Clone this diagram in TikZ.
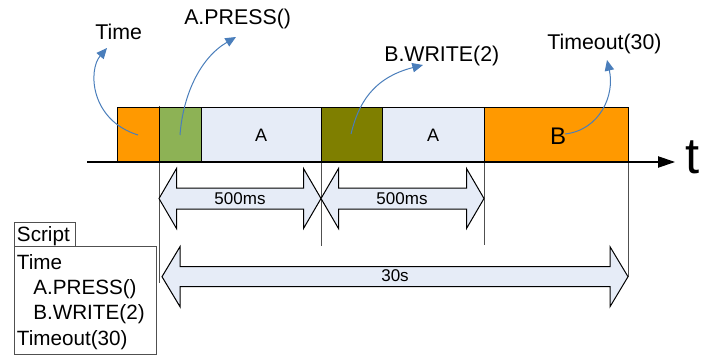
\documentclass[tikz,border=0pt]{standalone}
\usepackage{fontspec}
\setmainfont{Liberation Sans}
\usetikzlibrary{calc,fit,arrows.meta}

\definecolor{segorange}{HTML}{FF9900}
\definecolor{seggreen}{HTML}{8DB255}
\definecolor{segolive}{HTML}{7F7F00}
\definecolor{seglight}{HTML}{E6ECF7}
\definecolor{callout}{HTML}{4A7EBB}
\definecolor{guide}{HTML}{505050}

% double-headed dimension arrow between two named coordinates
% #1,#2 = end points, #3 = shaft half width, #4 = head half width, #5 = head length
\newcommand\spanarrow[5]{%
  \draw[dimbox] (#1)
    -- ($(#1)+(#5,-#4)$) -- ($(#1)+(#5,-#3)$)
    -- ($(#2)+(-#5,-#3)$) -- ($(#2)+(-#5,-#4)$)
    -- (#2)
    -- ($(#2)+(-#5,#4)$) -- ($(#2)+(-#5,#3)$)
    -- ($(#1)+(#5,#3)$) -- ($(#1)+(#5,#4)$) -- cycle;}

\begin{document}
\begin{tikzpicture}[x=0.75pt,y=-0.75pt,
  seg/.style={draw=black, line width=0.75pt, inner sep=0pt},
  guideline/.style={draw=guide, line width=0.75pt},
  dimbox/.style={draw=black, line width=0.75pt, fill=seglight, line join=miter},
  calloutarrow/.style={draw=callout, line width=0.75pt,
    -{Triangle[length=8pt,width=7pt]}},
  lbl/.style={inner sep=0pt, font=\fontsize{16pt}{19pt}\selectfont},
  scriptlbl/.style={inner sep=0pt, anchor=base west, font=\fontsize{15.5pt}{18pt}\selectfont},
  dimlbl/.style={inner sep=0pt, anchor=base, font=\fontsize{12.75pt}{15pt}\selectfont},
  scriptbox/.style={draw=guide, line width=0.75pt, inner sep=0pt, fill=white}]

\useasboundingbox (0,0) rectangle (712,356);

% vertical guide lines below the segment boundaries
\coordinate (g1t) at (159,106); \coordinate (g1b) at (159,283);
\coordinate (g2t) at (321,108); \coordinate (g2b) at (321,246);
\coordinate (g3t) at (484,108); \coordinate (g3b) at (484,245);
\coordinate (g4t) at (628,108); \coordinate (g4b) at (628,277);
\draw[guideline] (g1t) -- (g1b);
\draw[guideline] (g2t) -- (g2b);
\draw[guideline] (g3t) -- (g3b);
\draw[guideline] (g4t) -- (g4b);

% timeline segments
\node[seg, fill=segorange, fit={(117,108) (159,162)}] (s1) {};
\node[seg, fill=seggreen,  fit={(159,108) (201,162)}] (s2) {};
\node[seg, fill=seglight,  fit={(201,108) (321,162)}] (s3) {};
\node[seg, fill=segolive,  fit={(321,108) (382,162)}] (s4) {};
\node[seg, fill=seglight,  fit={(382,108) (484,162)}] (s5) {};
\node[seg, fill=segorange, fit={(484,108) (628,162)}] (s6) {};

\node[inner sep=0pt, font=\fontsize{13.5pt}{16pt}\selectfont] (la1) at (261,135) {A};
\node[inner sep=0pt, font=\fontsize{13.5pt}{16pt}\selectfont] (la2) at (433,135) {A};
\node[inner sep=0pt, font=\fontsize{18pt}{20pt}\selectfont] (lb) at (558,136) {B};

% time axis
\coordinate (axL) at (87,162);
\coordinate (axR) at (675,162);
\draw[line width=0.9pt, -{Triangle[length=12.75pt,width=8.5pt]}] (axL) -- (axR);
\node[inner sep=0pt, anchor=base, font=\fontsize{38pt}{40pt}\selectfont] (tlab) at (693,173) {t};

% event labels and callouts
\node[lbl, anchor=base west] (ev1) at (95,40) {Time};
\node[lbl, anchor=base west] (ev2) at (184,25) {A.PRESS()};
\node[lbl, anchor=base west] (ev3) at (384,61.5) {B.WRITE(2)};
\node[lbl, anchor=base west] (ev4) at (547,50) {Timeout(30)};

\coordinate (c1s) at (138,135); \coordinate (c1e) at (107,48);
\coordinate (c2s) at (180,135); \coordinate (c2e) at (236,37);
\coordinate (c3s) at (351,134); \coordinate (c3e) at (423,65);
\coordinate (c4s) at (565,134); \coordinate (c4e) at (607,60);
\draw[calloutarrow] (c1s) .. controls (90,120) and (88,70) .. (c1e);
\draw[calloutarrow] (c2s) .. controls (183,95) and (200,58) .. (c2e);
\draw[calloutarrow] (c3s) .. controls (358,105) and (372,78) .. (c3e);
\draw[calloutarrow] (c4s) .. controls (600,130) and (615,95) .. (c4e);

% interval arrows
\coordinate (m0) at (159,198.5);
\coordinate (m1) at (321,198.5);
\coordinate (m2) at (484,198.5);
\spanarrow{m0}{m1}{10.5}{30}{17.5}
\spanarrow{m1}{m2}{10.5}{30}{17.5}
\node[dimlbl] (d1) at (240,204.3) {500ms};
\node[dimlbl] (d2) at (402,204.3) {500ms};

\coordinate (n0) at (162,276.7);
\coordinate (n1) at (628,276.7);
\spanarrow{n0}{n1}{10}{30}{18}
\node[dimlbl] (d3) at (395,281.7) {30s};

% script listing
\node[scriptbox, fit={(14.7,222.3) (75.3,246)}] (tab) {};
\node[scriptbox, fit={(14.7,246.7) (156,354)}] (body) {};
\node[scriptlbl] (sc0) at (16.7,241) {Script};
\node[scriptlbl] (sc1) at (16.7,269.3) {Time};
\node[scriptlbl] (sc2) at (33,294.5) {A.PRESS()};
\node[scriptlbl] (sc3) at (33,319.8) {B.WRITE(2)};
\node[scriptlbl] (sc4) at (16.7,345) {Timeout(30)};

\end{tikzpicture}
\end{document}
